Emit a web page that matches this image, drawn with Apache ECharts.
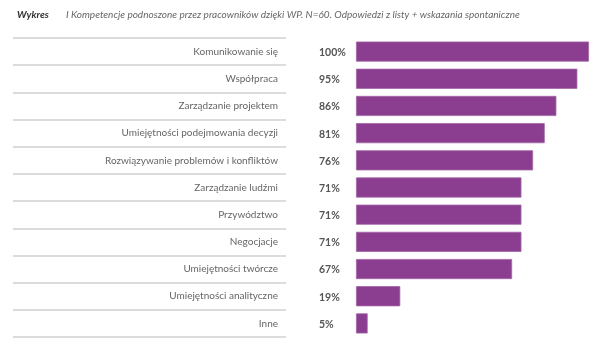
<!DOCTYPE html>
<html><head><meta charset="utf-8">
<script src="https://cdn.jsdelivr.net/npm/echarts@6/dist/echarts.min.js"></script>
<style>html,body{margin:0;padding:0;background:#fff}#c{width:601px;height:362px}</style>
</head><body><div id="c"></div>
<script>
const categories = ["Komunikowanie się","Współpraca","Zarządzanie projektem","Umiejętności podejmowania decyzji","Rozwiązywanie problemów i konfliktów","Zarządzanie ludźmi","Przywództwo","Negocjacje","Umiejętności twórcze","Umiejętności analityczne","Inne"];
const values = [100,95,86,81,76,71,71,71,67,19,5];
const titleLead = "Wykres";
const titleText = "I Kompetencje podnoszone przez pracowników dzięki WP. N=60. Odpowiedzi z listy + wskazania spontaniczne";

const chart = echarts.init(document.getElementById('c'), null, {renderer:'canvas'});
chart.setOption({
  animation:false,
  title:[
    {text:titleLead, left:12, top:5, textStyle:{fontFamily:'Lato', fontSize:10, fontWeight:'bold', fontStyle:'italic', color:'#333'}},
    {text:titleText, left:61, top:5, textStyle:{fontFamily:'Lato', fontSize:10, fontWeight:'normal', fontStyle:'italic', color:'#666'}}
  ],
  grid:[
    {left:356, top:38, width:233, height:299, containLabel:false},
    {left:13, top:38, width:273, height:299, containLabel:false}
  ],
  xAxis:[
    {gridIndex:0, type:'value', min:0, max:100, show:false},
    {gridIndex:1, type:'value', min:0, max:1, show:false}
  ],
  yAxis:[
    {gridIndex:0, type:'category', data:categories, inverse:true,
     axisLine:{show:false}, axisTick:{show:false}, splitLine:{show:false},
     axisLabel:{margin:78, fontFamily:'Lato', fontSize:10, color:'#666'}},
    {gridIndex:1, type:'category', data:categories, inverse:true,
     axisLine:{show:false}, axisTick:{show:false}, axisLabel:{show:false},
     splitLine:{show:true, lineStyle:{color:'#d0d0d0', width:1.5}}}
  ],
  series:[
    {type:'bar', xAxisIndex:0, yAxisIndex:0, data:values, barCategoryGap:'26%',
     itemStyle:{color:'#8b3d90', borderColor:'#a266a6', borderWidth:0.8},
     label:{show:true, position:'insideLeft', offset:[-42,1], formatter:'{c}%',
            fontFamily:'Lato', fontSize:10.5, fontWeight:'bold', color:'#555'}}
  ]
});
</script></body></html>
